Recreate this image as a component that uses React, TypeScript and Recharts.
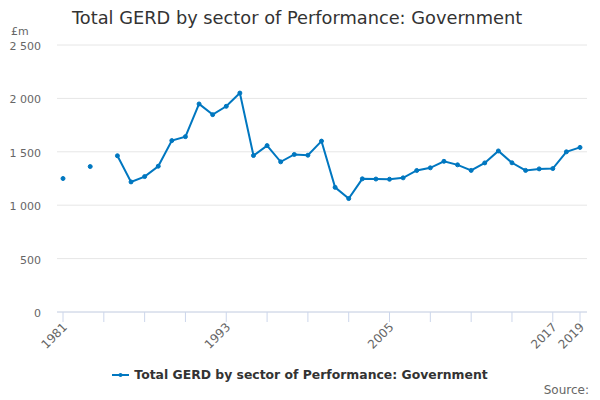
import React from 'react';
import { LineChart, Line, XAxis, YAxis, CartesianGrid, Legend } from 'recharts';

const years = [
  1981, 1982, 1983, 1984, 1985, 1986, 1987, 1988, 1989, 1990,
  1991, 1992, 1993, 1994, 1995, 1996, 1997, 1998, 1999, 2000,
  2001, 2002, 2003, 2004, 2005, 2006, 2007, 2008, 2009, 2010,
  2011, 2012, 2013, 2014, 2015, 2016, 2017, 2018, 2019,
];

const government = [
  1250, null, 1362, null, 1463, 1218, 1268, 1365, 1605, 1642,
  1948, 1848, 1926, 2050, 1465, 1558, 1406, 1475, 1468, 1600,
  1167, 1062, 1247, 1245, 1243, 1256, 1325, 1350, 1411, 1378,
  1326, 1396, 1508, 1397, 1326, 1340, 1343, 1500, 1541,
];

const xTicks = [1981, 1984, 1987, 1990, 1993, 1996, 1999, 2002, 2005, 2008, 2011, 2014, 2017, 2019];
const xLabels = [1981, 1993, 2005, 2017, 2019];
const yTicks = [0, 500, 1000, 1500, 2000, 2500];

const seriesName = 'Total GERD by sector of Performance: Government';
const COLOR = '#0077c0';
const FONT = '"DejaVu Sans", Verdana, sans-serif';

const data = years.map((year, i) => ({ year, value: government[i] }));

const fmt = (v: number) =>
  v >= 1000 ? `${Math.floor(v / 1000)} ${String(v % 1000).padStart(3, '0')}` : String(v);

const XTick = (props: any) => {
  const { x, y, payload } = props;
  if (!xLabels.includes(payload.value)) return null;
  const ax = x + 2;
  const ay = y + 1;
  return (
    <text
      x={ax}
      y={ay}
      textAnchor="end"
      transform={`rotate(-45, ${ax}, ${ay})`}
      fill="#666"
      fontSize={12}
      fontFamily={FONT}
      dy={4}
    >
      {payload.value}
    </text>
  );
};

const YTick = (props: any) => {
  const { x, y, payload } = props;
  return (
    <text x={x} y={y} textAnchor="end" fill="#666" fontSize={11} fontFamily={FONT} dy={5}>
      {fmt(payload.value)}
    </text>
  );
};

const LegendContent = () => (
  <div style={{ display: 'flex', justifyContent: 'center', alignItems: 'center', fontFamily: FONT }}>
    <svg width={18} height={10} style={{ marginRight: 4 }}>
      <line x1={0} y1={5} x2={17} y2={5} stroke={COLOR} strokeWidth={2} />
      <circle cx={8.5} cy={5} r={2} fill={COLOR} />
    </svg>
    <span style={{ fontSize: 12.4, fontWeight: 'bold', color: '#333' }}>{seriesName}</span>
  </div>
);

export default function App() {
  return (
    <div style={{ position: 'fixed', top: 0, left: 0, width: 600, height: 400, background: '#fff' }}>
      <div
        style={{
          position: 'absolute', left: 72, top: 7, fontFamily: FONT, fontSize: 17.8,
          lineHeight: '22px', color: '#333', whiteSpace: 'nowrap',
        }}
      >
        {seriesName}
      </div>
      <div
        style={{
          position: 'absolute', left: 11, top: 25, fontFamily: FONT, fontSize: 11,
          lineHeight: '14px', color: '#666',
        }}
      >
        £m
      </div>
      <div
        style={{
          position: 'absolute', right: 11, top: 382, fontFamily: FONT, fontSize: 12,
          lineHeight: '16px', color: '#666',
        }}
      >
        Source:
      </div>
      <LineChart
        width={600}
        height={400}
        data={data}
        margin={{ top: 45, right: 13, left: 0, bottom: 38 }}
      >
        <CartesianGrid horizontal vertical={false} stroke="#e6e6e6" />
        <XAxis
          dataKey="year"
          type="number"
          domain={[1981, 2019]}
          ticks={xTicks}
          padding={{ left: 6, right: 7 }}
          interval={0}
          height={50}
          axisLine={{ stroke: '#ccd6eb' }}
          tickLine={{ stroke: '#ccd6eb' }}
          tickSize={10}
          tick={<XTick />}
        />
        <YAxis
          domain={[0, 2500]}
          ticks={yTicks}
          width={57}
          axisLine={false}
          tickLine={false}
          tickSize={0}
          tickMargin={16}
          tick={<YTick />}
        />
        <Legend
          verticalAlign="middle"
          layout="horizontal"
          wrapperStyle={{ top: 367, left: 0, width: 600 }}
          content={<LegendContent />}
        />
        <Line
          type="linear"
          dataKey="value"
          name={seriesName}
          stroke={COLOR}
          strokeWidth={2}
          dot={{ r: 2, fill: COLOR, stroke: COLOR, strokeWidth: 1 }}
          activeDot={false}
          connectNulls={false}
          isAnimationActive={false}
        />
      </LineChart>
    </div>
  );
}
